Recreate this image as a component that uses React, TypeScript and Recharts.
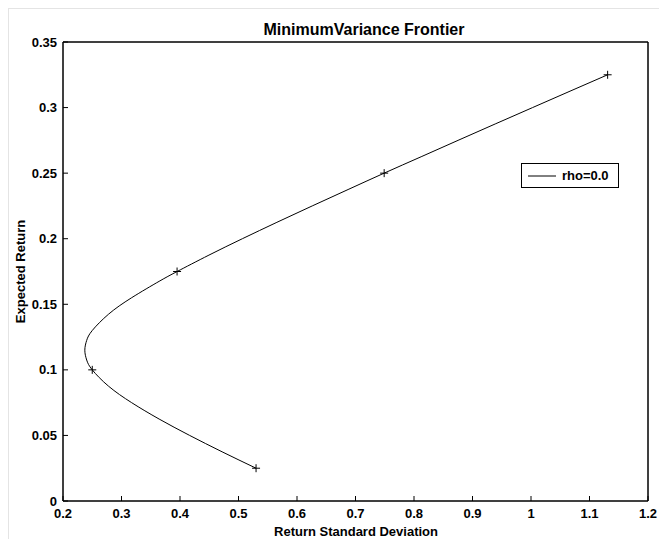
import React from "react";
import {
  ComposedChart,
  Line,
  Scatter,
  XAxis,
  YAxis,
  Legend,
  ReferenceArea,
} from "recharts";

// frontier curve (std dev, expected return)
const frontierSigma = [
  0.53, 0.472, 0.4165, 0.3643, 0.3173, 0.278, 0.25, 0.2405, 0.2373, 0.2405,
  0.25, 0.278, 0.3173, 0.3643, 0.3951, 0.4495, 0.5066, 0.5656, 0.626, 0.6873,
  0.749, 0.8122, 0.8753, 0.9388, 1.0027, 1.0667, 1.131,
];
const frontierMu = [
  0.025, 0.0375, 0.05, 0.0625, 0.075, 0.0875, 0.1, 0.1075, 0.115, 0.1225,
  0.13, 0.1425, 0.155, 0.1675, 0.175, 0.1875, 0.2, 0.2125, 0.225, 0.2375,
  0.25, 0.2625, 0.275, 0.2875, 0.3, 0.3125, 0.325,
];

// "+" markers
const markerSigma = [0.53, 0.25, 0.395, 0.749, 1.131];
const markerMu = [0.025, 0.1, 0.175, 0.25, 0.325];

const xTicks = [0.2, 0.3, 0.4, 0.5, 0.6, 0.7, 0.8, 0.9, 1, 1.1, 1.2];
const yTicks = [0, 0.05, 0.1, 0.15, 0.2, 0.25, 0.3, 0.35];

const frontier = frontierSigma.map((s, i) => ({ sigma: s, mu: frontierMu[i] }));
const markers = markerSigma.map((s, i) => ({ sigma: s, mu: markerMu[i] }));

const FONT = '"Liberation Sans", Arial, sans-serif';
const tickStyle = { fill: "#000", fontSize: 13, fontWeight: 700, fontFamily: FONT };
const textStyle: React.CSSProperties = {
  position: "absolute",
  fontFamily: FONT,
  fontWeight: 700,
  color: "#000",
  whiteSpace: "nowrap",
  lineHeight: 1,
};

const Plus = (props: any) => {
  const { cx, cy } = props;
  return (
    <g stroke="#000" strokeWidth={1}>
      <line x1={cx - 4} y1={cy} x2={cx + 4} y2={cy} />
      <line x1={cx} y1={cy - 4} x2={cx} y2={cy + 4} />
    </g>
  );
};

const LegendBox = () => (
  <div
    style={{
      width: 96,
      height: 23,
      border: "1px solid #000",
      background: "#fff",
      display: "flex",
      alignItems: "center",
      fontFamily: FONT,
      fontWeight: 700,
      fontSize: 13,
      color: "#000",
    }}
  >
    <svg width={40} height={23}>
      <line x1={6} y1={12} x2={34} y2={12} stroke="#000" strokeWidth={1} />
    </svg>
    <span>rho=0.0</span>
  </div>
);

export default function App() {
  return (
    <div
      style={{
        position: "absolute",
        left: 0,
        top: 0,
        width: 659,
        height: 539,
        overflow: "hidden",
        background: "#fff",
      }}
    >
      {/* faint frame of the figure window */}
      <div
        style={{
          position: "absolute",
          left: 8,
          top: 8,
          width: 651,
          height: 531,
          borderTop: "1px solid #e4e4e4",
          borderLeft: "1px solid #e4e4e4",
        }}
      />
      {/* title */}
      <div style={{ ...textStyle, left: 0, width: 728, top: 22, textAlign: "center", fontSize: 16 }}>
        MinimumVariance Frontier
      </div>
      {/* x axis title */}
      <div style={{ ...textStyle, left: 0, width: 712, top: 525, textAlign: "center", fontSize: 13 }}>
        Return Standard Deviation
      </div>
      {/* y axis title */}
      <div
        style={{
          ...textStyle,
          left: 20 - 100,
          width: 200,
          top: 272 - 7,
          textAlign: "center",
          fontSize: 13,
          transform: "rotate(-90deg)",
        }}
      >
        Expected Return
      </div>
      <div style={{ position: "absolute", left: 9, top: 9 }}>
        <ComposedChart
          width={650}
          height={530}
          margin={{ top: 32, right: 10, left: 0, bottom: 0 }}
        >
          <XAxis
            type="number"
            dataKey="sigma"
            domain={[0.2, 1.2]}
            ticks={xTicks}
            allowDataOverflow
            height={38}
            tickSize={-5}
            tickMargin={13}
            tick={tickStyle}
            axisLine={{ stroke: "#000" }}
            tickLine={{ stroke: "#000" }}
          />
          <XAxis
            xAxisId="top"
            orientation="top"
            type="number"
            dataKey="sigma"
            domain={[0.2, 1.2]}
            ticks={xTicks}
            height={1}
            tickSize={-5}
            tick={false}
            axisLine={{ stroke: "#000" }}
            tickLine={{ stroke: "#000" }}
          />
          <YAxis
            type="number"
            dataKey="mu"
            domain={[0, 0.35]}
            ticks={yTicks}
            width={54}
            tickSize={-5}
            tickMargin={11}
            tick={tickStyle}
            axisLine={{ stroke: "#000" }}
            tickLine={{ stroke: "#000" }}
          />
          <YAxis
            yAxisId="right"
            orientation="right"
            type="number"
            domain={[0, 0.35]}
            ticks={yTicks}
            width={1}
            tickSize={-5}
            tick={false}
            axisLine={{ stroke: "#000" }}
            tickLine={{ stroke: "#000" }}
          />
          <ReferenceArea
            x1={0.2}
            x2={1.2}
            y1={0}
            y2={0.35}
            fill="none"
            stroke="#000"
            strokeWidth={1}
            fillOpacity={0}
          />
          {/* horizontal + middle + center keeps the legend from eating plot space */}
          <Legend
            layout="horizontal"
            verticalAlign="middle"
            align="center"
            content={() => <LegendBox />}
            wrapperStyle={{ position: "absolute", left: 512, top: 154, width: 98 }}
          />
          <Line
            data={frontier}
            dataKey="mu"
            type="natural"
            stroke="#000"
            strokeWidth={1}
            dot={false}
            name="rho=0.0"
            isAnimationActive={false}
          />
          <Scatter
            data={markers}
            dataKey="mu"
            shape={<Plus />}
            legendType="none"
            isAnimationActive={false}
          />
        </ComposedChart>
      </div>
    </div>
  );
}
